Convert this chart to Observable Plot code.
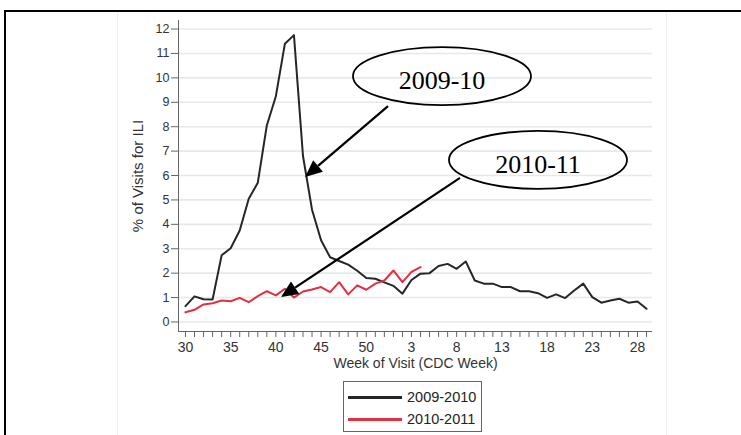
<!DOCTYPE html>
<html>
<head>
<meta charset="utf-8">
<script src="https://cdn.jsdelivr.net/npm/d3@7"></script>
<script src="https://cdn.jsdelivr.net/npm/@observablehq/plot@0.6"></script>
<style>
  html, body { margin: 0; padding: 0; background: #fff; }
  #wrap { position: relative; width: 741px; height: 435px; overflow: hidden; background: #fff; font-family: "Liberation Sans", Arial, sans-serif; }
  #chart { position: absolute; left: 0; top: 0; }
  .frameTop { position: absolute; left: 4px; top: 10px; width: 737px; height: 2px; background: #000; }
  .frameLeft { position: absolute; left: 4px; top: 10px; width: 2px; height: 425px; background: #000; }
  .faint { position: absolute; top: 12px; width: 1px; height: 423px; background: #f0f0f0; }
  #legend { position: absolute; left: 343px; top: 381px; width: 139px; height: 51px; border: 1px solid #666; box-sizing: border-box; background: #fff; }
  .item { position: absolute; left: 4px; height: 18px; display: flex; align-items: center; font-size: 14.5px; color: #222; }
  .swatch { width: 54px; height: 3px; margin-right: 5px; }
</style>
</head>
<body>
<div id="wrap">
  <div class="faint" style="left:117px"></div>
  <div class="faint" style="left:666px"></div>
  <div id="chart"></div>
  <div class="frameTop"></div>
  <div class="frameLeft"></div>
  <div id="legend"></div>
</div>
<script>
// CDC weeks, July 2009 (week 30) through week 29 of the following year
const weeks = [30,31,32,33,34,35,36,37,38,39,40,41,42,43,44,45,46,47,48,49,50,51,52,
               1,2,3,4,5,6,7,8,9,10,11,12,13,14,15,16,17,18,19,20,21,22,23,24,25,26,27,28,29];
const xTickLabels = ["30","35","40","45","50","3","8","13","18","23","28"];
const yTicks = [0,1,2,3,4,5,6,7,8,9,10,11,12];

// % of visits for ILI, season 2009-2010 (one value per week above)
const ili0910 = [0.65,1.05,0.93,0.92,2.73,3.02,3.75,5.05,5.7,8.05,9.25,11.4,11.75,6.8,4.6,3.35,2.65,2.5,2.35,2.1,
                 1.8,1.77,1.62,1.48,1.16,1.72,1.98,2.0,2.29,2.38,2.18,2.48,1.7,1.57,1.57,1.43,1.43,1.26,1.26,1.18,
                 0.99,1.13,0.98,1.29,1.57,1.02,0.79,0.88,0.95,0.79,0.84,0.54];
// season 2010-2011 (weeks 30 .. 4)
const ili1011 = [0.4,0.5,0.72,0.77,0.88,0.85,0.99,0.81,1.06,1.26,1.09,1.36,1.0,1.25,1.33,1.43,1.22,1.63,1.13,1.5,
                 1.32,1.57,1.7,2.11,1.63,2.05,2.25];

const seriesNames = ["2009-2010", "2010-2011"];
const seriesColors = ["#262626", "#e23040"];

// annotations, anchored in data units (x = week index, y = %)
const callouts = [
  {label: "2009-10", cx: 28.43, cy: 10.05, fromX: 22.46, fromY: 8.82, toX: 13.29, toY: 5.92},
  {label: "2010-11", cx: 39.05, cy: 6.62, fromX: 30.42, fromY: 5.88, toX: 10.62, toY: 1.0}
];

const rows = [
  ...ili0910.map((v, i) => ({i, v, s: seriesNames[0]})),
  ...ili1011.map((v, i) => ({i, v, s: seriesNames[1]}))
];
const labelIdx = weeks.map((w, i) => i).filter(i => xTickLabels.includes(String(weeks[i])) && (i % 5 === 0));
const xDomain = [-0.77, 51.66];
const yDomain = [-0.39, 12.35];

const plot = Plot.plot({
  width: 741,
  height: 435,
  marginLeft: 178,
  marginRight: 89,
  marginTop: 20,
  marginBottom: 104,
  style: {fontFamily: "'Liberation Sans', Arial, sans-serif", background: "transparent", color: "#333"},
  x: {type: "linear", domain: xDomain},
  y: {domain: yDomain},
  marks: [
    Plot.gridY(yTicks, {stroke: "#e4eaea", strokeOpacity: 1, strokeWidth: 1.6}),
    Plot.ruleX([xDomain[0]], {stroke: "#666", strokeWidth: 1}),
    Plot.ruleY([yDomain[0]], {stroke: "#666", strokeWidth: 1}),
    Plot.axisY(yTicks, {tickSize: 7, tickPadding: 2, fontSize: 12.5, stroke: "#666", fill: "#333", label: null}),
    Plot.axisY([], {tickSize: 0, fontSize: 15, fill: "#333",
      label: "% of Visits for ILI", labelAnchor: "center", labelArrow: "none", labelOffset: 46}),
    Plot.axisX(weeks.map((w, i) => i), {tickSize: 6, tickPadding: 5, fontSize: 14, stroke: "#666", fill: "#333",
      tickFormat: i => labelIdx.includes(i) ? String(weeks[i]) : "",
      label: "Week of Visit (CDC Week)", labelAnchor: "center", labelArrow: "none", labelOffset: 36}),
    Plot.line(rows, {x: "i", y: "v", z: "s", stroke: "s", strokeWidth: 2, strokeLinejoin: "round"})
  ],
  color: {domain: seriesNames, range: seriesColors}
});
document.getElementById("chart").appendChild(plot);

// callouts drawn through the plot's scales
const sx = plot.scale("x"), sy = plot.scale("y");
const X = v => sx.apply(v), Y = v => sy.apply(v);
const svg = d3.select(plot);
const g = svg.append("g");
for (const c of callouts) {
  const x0 = X(c.fromX), y0 = Y(c.fromY), x1 = X(c.toX), y1 = Y(c.toY);
  const ang = Math.atan2(y1 - y0, x1 - x0);
  const L = 17, W = 7.5;
  const bx = x1 - L * Math.cos(ang), by = y1 - L * Math.sin(ang);
  g.append("line").attr("x1", x0).attr("y1", y0).attr("x2", bx).attr("y2", by)
    .attr("stroke", "#000").attr("stroke-width", 2.2);
  g.append("polygon").attr("fill", "#000").attr("points", [
    [x1, y1],
    [bx + W * Math.sin(ang), by - W * Math.cos(ang)],
    [bx - W * Math.sin(ang), by + W * Math.cos(ang)]
  ].map(p => p.join(",")).join(" "));
  g.append("ellipse").attr("cx", X(c.cx)).attr("cy", Y(c.cy)).attr("rx", 89).attr("ry", 29)
    .attr("fill", "none").attr("stroke", "#000").attr("stroke-width", 1.8);
  g.append("text").attr("x", X(c.cx)).attr("y", Y(c.cy) + 13).attr("text-anchor", "middle")
    .attr("font-family", "'Liberation Serif', 'Times New Roman', serif").attr("font-size", 26)
    .attr("fill", "#000").text(c.label);
}

// legend
const leg = document.getElementById("legend");
seriesNames.forEach((name, k) => {
  const it = document.createElement("div");
  it.className = "item";
  it.style.top = (6 + k * 22) + "px";
  it.innerHTML = `<div class="swatch" style="background:${seriesColors[k]}"></div><span>${name}</span>`;
  leg.appendChild(it);
});
</script>
</body>
</html>
